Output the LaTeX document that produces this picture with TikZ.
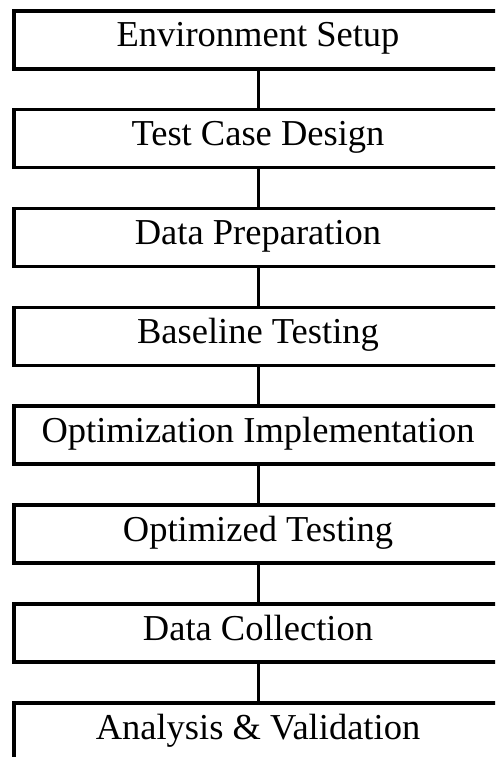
\documentclass[tikz,border=0pt]{standalone}
\usepackage{fontspec}
\setmainfont{Liberation Serif}
\begin{document}
\begin{tikzpicture}[x=1pt,y=-1pt,
  stage/.style={draw, line width=3.7pt, minimum width=488.6pt, minimum height=58pt,
    inner sep=0pt, text height=24pt, text depth=10pt,
    font=\fontsize{36.5}{42}\selectfont},
  link/.style={line width=3pt}]
\useasboundingbox (0,0) rectangle (495,757);
\clip (0,0) rectangle (495,757);
% process stages, top to bottom
\node[stage] (s1) at (258, 39.7)  {Environment Setup};
\node[stage] (s2) at (258, 138.6) {Test Case Design};
\node[stage] (s3) at (258, 237.5) {Data Preparation};
\node[stage] (s4) at (258, 336.4) {Baseline Testing};
\node[stage] (s5) at (258, 435.3) {Optimization Implementation};
\node[stage] (s6) at (258, 534.2) {Optimized Testing};
\node[stage] (s7) at (258, 633.1) {Data Collection};
\node[stage] (s8) at (258, 732.0) {Analysis \& Validation};
% links between consecutive stages
\foreach \a/\b in {s1/s2, s2/s3, s3/s4, s4/s5, s5/s6, s6/s7, s7/s8}
  \draw[link] (\a.south) -- (\b.north);
\end{tikzpicture}
\end{document}
